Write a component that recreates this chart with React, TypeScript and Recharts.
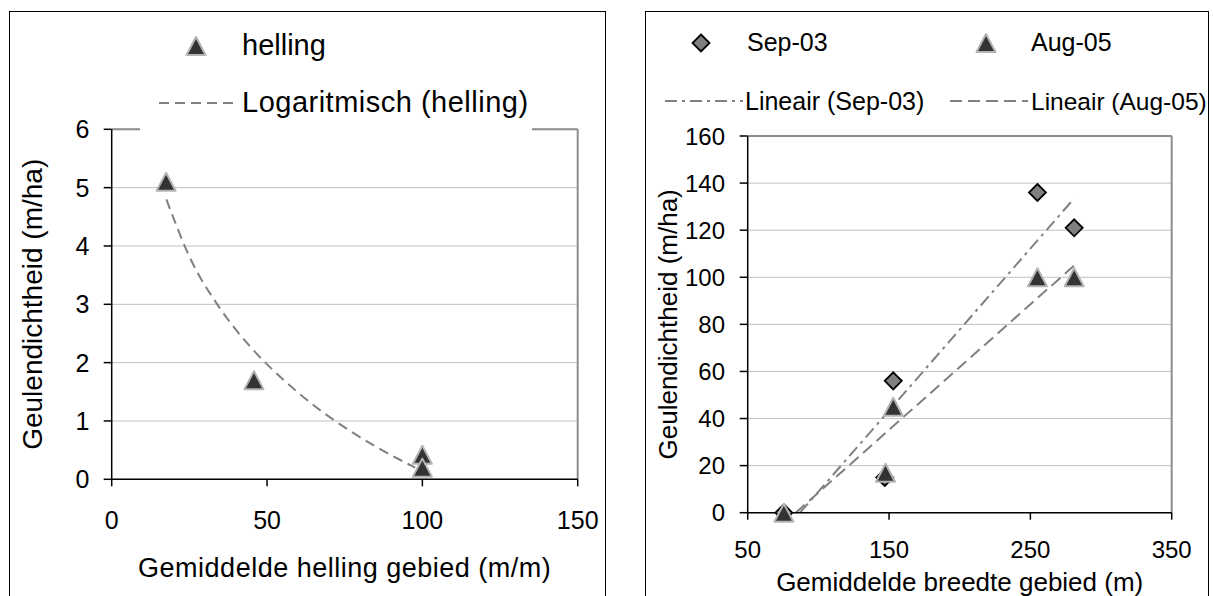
import React from 'react';
import { ComposedChart, Scatter, Line, XAxis, YAxis, CartesianGrid, ReferenceLine, Legend, Label } from 'recharts';

// ---------- Left chart data ----------
const hellingX = [17.5, 45.8, 100, 100];
const hellingY = [5.1, 1.7, 0.42, 0.2];
const logTrendX = [17.6, 25, 35, 45, 55, 65, 75, 85, 97.7];
const logTrendY = [4.8, 3.82, 2.92, 2.25, 1.72, 1.27, 0.89, 0.56, 0.2];
const leftXTicks = [0, 50, 100, 150];
const leftYTicks = [0, 1, 2, 3, 4, 5, 6];

// ---------- Right chart data ----------
const sep03X = [75.6, 147, 153, 255, 281];
const sep03Y = [0, 15, 56, 136, 121];
const aug05X = [75.6, 147.5, 153, 255, 281];
const aug05Y = [0, 17, 45, 100, 100];
const sepTrendX = [87, 281];
const sepTrendY = [0, 133.5];
const augTrendX = [84, 281];
const augTrendY = [0, 105];
const rightXTicks = [50, 150, 250, 350];
const rightYTicks = [0, 20, 40, 60, 80, 100, 120, 140, 160];

const zip = (xs: number[], ys: number[]) => xs.map((x, i) => ({ x, y: ys[i] }));

const FONT = '"Liberation Sans", Arial, sans-serif';
const TREND = '#808080';

const Triangle = (props: any) => {
  const { cx, cy } = props;
  if (cx == null || cy == null) return null;
  const w = 19, h = 18;
  return (
    <polygon
      points={`${cx},${cy - h / 2} ${cx + w / 2},${cy + h / 2} ${cx - w / 2},${cy + h / 2}`}
      fill="#333333" stroke="#b4b4b4" strokeWidth={2} strokeLinejoin="round"
    />
  );
};

const Diamond = (props: any) => {
  const { cx, cy } = props;
  if (cx == null || cy == null) return null;
  const r = 8.5;
  return (
    <polygon
      points={`${cx},${cy - r} ${cx + r},${cy} ${cx},${cy + r} ${cx - r},${cy}`}
      fill="#808080" stroke="#000" strokeWidth={1.8}
    />
  );
};

const LeftLegend = () => (
  <svg width={392} height={113} style={{ display: 'block' }}>
    <rect x={0} y={0} width={392} height={113} fill="#fff" />
    <Triangle cx={56} cy={28} />
    <text x={102} y={27} fontSize={29} fontFamily={FONT} fill="#000" dominantBaseline="central">helling</text>
    <line x1={19} y1={85} x2={94} y2={85} stroke={TREND} strokeWidth={2} strokeDasharray="10 6" />
    <text x={102} y={84} fontSize={29} fontFamily={FONT} fill="#000" dominantBaseline="central" letterSpacing={0.5}>Logaritmisch (helling)</text>
  </svg>
);

const RightLegend = () => (
  <svg width={556} height={105} style={{ display: 'block', overflow: 'visible' }}>
    <Diamond cx={51} cy={23} />
    <text x={97} y={22} fontSize={25} fontFamily={FONT} fill="#000" dominantBaseline="central">Sep-03</text>
    <Triangle cx={336} cy={23} />
    <text x={381} y={22} fontSize={25} fontFamily={FONT} fill="#000" dominantBaseline="central">Aug-05</text>
    <line x1={15} y1={81} x2={93} y2={81} stroke={TREND} strokeWidth={2} strokeDasharray="12 5 3 5" />
    <text x={95} y={81} fontSize={25} fontFamily={FONT} fill="#000" dominantBaseline="central">Lineair (Sep-03)</text>
    <line x1={300} y1={81} x2={378} y2={81} stroke={TREND} strokeWidth={2} strokeDasharray="12 6" />
    <text x={381} y={81} fontSize={24.5} fontFamily={FONT} fill="#000" dominantBaseline="central">Lineair (Aug-05)</text>
  </svg>
);

const axisStroke = { stroke: '#000', strokeWidth: 1.5 };

const XTitle = (text: string, dy: number, size: number, spacing: number) => (p: any) => {
  const vb = p.viewBox || {};
  return (
    <text x={vb.x + vb.width / 2} y={vb.y + dy} textAnchor="middle" dominantBaseline="central"
      fontSize={size} fontFamily={FONT} fill="#000" letterSpacing={spacing}>{text}</text>
  );
};

const YTitle = (text: string, cxOff: number, size: number) => (p: any) => {
  const vb = p.viewBox || {};
  const x = vb.x + cxOff;
  const y = vb.y + vb.height / 2;
  return (
    <text x={x} y={y} transform={`rotate(-90, ${x}, ${y})`} textAnchor="middle" dominantBaseline="central"
      fontSize={size} fontFamily={FONT} fill="#000">{text}</text>
  );
};

export default function App() {
  const helling = zip(hellingX, hellingY);
  const logTrend = zip(logTrendX, logTrendY);
  const sep03 = zip(sep03X, sep03Y);
  const aug05 = zip(aug05X, aug05Y);
  const sepTrend = zip(sepTrendX, sepTrendY);
  const augTrend = zip(augTrendX, augTrendY);

  return (
    <div style={{ position: 'absolute', left: 0, top: 0, width: 1213, height: 596, overflow: 'hidden', background: '#fff' }}>
      {/* outer frames */}
      <div style={{ position: 'absolute', left: 9, top: 11, width: 597, height: 620, border: '1.5px solid #000', boxSizing: 'border-box' }} />
      <div style={{ position: 'absolute', left: 645, top: 11, width: 564, height: 620, border: '1.5px solid #000', boxSizing: 'border-box' }} />

      {/* left chart */}
      <div style={{ position: 'absolute', left: 0, top: 0 }}>
        <ComposedChart width={610} height={596} margin={{ top: 129.3, right: 32.3, bottom: 36.7, left: 0 }}>
          <CartesianGrid vertical={false} stroke="#c0c0c0" strokeWidth={1} />
          <XAxis type="number" dataKey="x" domain={[0, 150]} ticks={leftXTicks} interval={0}
            height={80} tickSize={7} tickMargin={24.7} axisLine={axisStroke} tickLine={axisStroke}
            tick={{ fontSize: 25, fill: '#000', fontFamily: FONT }}>
            <Label content={XTitle('Gemiddelde helling gebied (m/m)', 88.7, 27, 0.5)} />
          </XAxis>
          <YAxis type="number" dataKey="y" domain={[0, 6]} ticks={leftYTicks} interval={0}
            width={111.7} tickSize={8} tickMargin={14.4} axisLine={axisStroke} tickLine={axisStroke}
            tick={{ fontSize: 25, fill: '#000', fontFamily: FONT }}>
            <Label content={YTitle('Geulendichtheid (m/ha)', 33, 28)} />
          </YAxis>
          <ReferenceLine y={6} stroke="#8c8c8c" strokeWidth={2} />
          <ReferenceLine x={150} stroke="#8c8c8c" strokeWidth={2} />
          <Line data={logTrend} dataKey="y" type="monotone" stroke={TREND} strokeWidth={2}
            strokeDasharray="10 6" dot={false} activeDot={false} isAnimationActive={false} name="Logaritmisch (helling)" />
          <Scatter data={helling} dataKey="y" shape={Triangle} isAnimationActive={false} name="helling" />
          <Legend layout="horizontal" verticalAlign="middle" align="center"
            wrapperStyle={{ left: 140, top: 18, width: 392, height: 113 }}
            content={() => <LeftLegend />} />
        </ComposedChart>
      </div>

      {/* right chart */}
      <div style={{ position: 'absolute', left: 620, top: 0 }}>
        <ComposedChart width={593} height={596} margin={{ top: 136, right: 41.3, bottom: 23.3, left: 0 }}>
          <CartesianGrid vertical={false} stroke="#c0c0c0" strokeWidth={1} />
          <XAxis type="number" dataKey="x" domain={[50, 350]} ticks={rightXTicks} interval={0}
            height={60} tickSize={7} tickMargin={21} axisLine={axisStroke} tickLine={axisStroke}
            tick={{ fontSize: 24, fill: '#000', fontFamily: FONT }}>
            <Label content={XTitle('Gemiddelde breedte gebied (m)', 69, 26, 0)} />
          </XAxis>
          <YAxis type="number" dataKey="y" domain={[0, 160]} ticks={rightYTicks} interval={0}
            width={127.7} tickSize={8} tickMargin={14.7} axisLine={axisStroke} tickLine={axisStroke}
            tick={{ fontSize: 24, fill: '#000', fontFamily: FONT }}>
            <Label content={YTitle('Geulendichtheid (m/ha)', 48, 26)} />
          </YAxis>
          <ReferenceLine y={160} stroke="#8c8c8c" strokeWidth={2} />
          <ReferenceLine x={350} stroke="#8c8c8c" strokeWidth={2} />
          <Line data={sepTrend} dataKey="y" type="linear" stroke={TREND} strokeWidth={2}
            strokeDasharray="12 5 3 5" dot={false} activeDot={false} isAnimationActive={false} name="Lineair (Sep-03)" />
          <Line data={augTrend} dataKey="y" type="linear" stroke={TREND} strokeWidth={2}
            strokeDasharray="12 6" dot={false} activeDot={false} isAnimationActive={false} name="Lineair (Aug-05)" />
          <Scatter data={sep03} dataKey="y" shape={Diamond} isAnimationActive={false} name="Sep-03" />
          <Scatter data={aug05} dataKey="y" shape={Triangle} isAnimationActive={false} name="Aug-05" />
          <Legend layout="horizontal" verticalAlign="middle" align="center"
            wrapperStyle={{ left: 30, top: 20, width: 556, height: 105 }}
            content={() => <RightLegend />} />
        </ComposedChart>
      </div>
    </div>
  );
}
